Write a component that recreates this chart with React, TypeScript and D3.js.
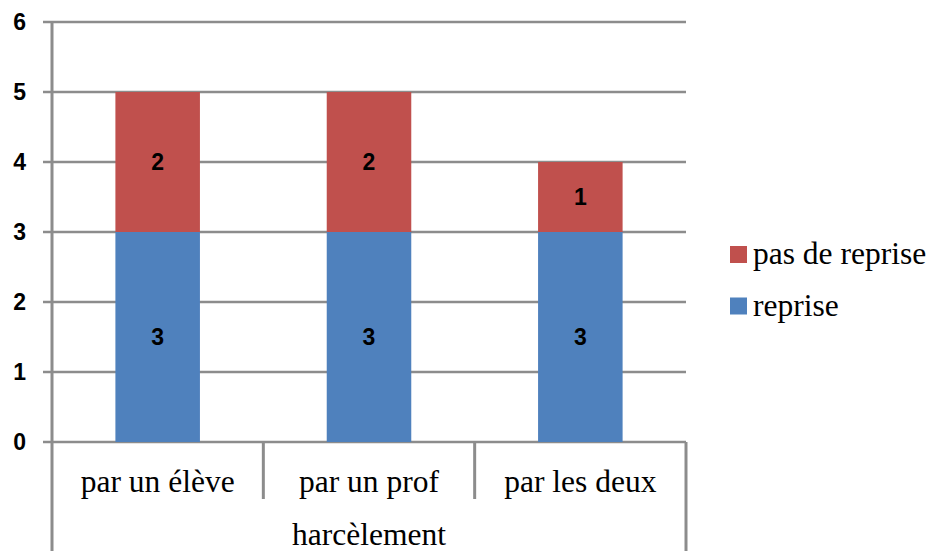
import React from "react";
import * as d3 from "d3";

const categories = ["par un élève", "par un prof", "par les deux"];
const groupLabel = "harcèlement";
const reprise = [3, 3, 3];
const pasDeReprise = [2, 2, 1];
const yTicks = [0, 1, 2, 3, 4, 5, 6];
const seriesNames = ["reprise", "pas de reprise"];
const colors = ["#4F81BD", "#C0504D"];

export default function App() {
  const W = 931, H = 551;
  const left = 52, right = 686, top = 22, bottom = 442;
  const x = d3.scaleBand<string>().domain(categories).range([left, right]).paddingInner(0.6).paddingOuter(0.3);
  const xOuter = d3.scaleBand<string>().domain(categories).range([left, right]);
  const y = d3.scaleLinear().domain([0, 6]).range([bottom, top]);
  const data = categories.map((c, i) => ({ c, reprise: reprise[i], pas: pasDeReprise[i] }));
  const stack = d3.stack<any>().keys(["reprise", "pas"])(data);
  const grid = "#8c8c8c";
  const sans = "'Liberation Sans', Arial, sans-serif";
  const serif = "'Liberation Serif', 'Times New Roman', serif";
  return (
    <svg width={W} height={H} style={{ position: "absolute", left: 0, top: 0, background: "#fff" }}>
      {yTicks.map((t) => (
        <line key={t} x1={43} x2={right} y1={y(t)} y2={y(t)} stroke={grid} strokeWidth={2.5} />
      ))}
      {yTicks.map((t) => (
        <text key={"l" + t} x={26} y={y(t)} dy="0.36em" textAnchor="end" fontFamily={sans} fontWeight={700} fontSize={23} fill="#000">{t}</text>
      ))}
      {stack.map((s, si) =>
        s.map((d, i) => (
          <g key={si + "-" + i}>
            <rect x={x(categories[i])} width={x.bandwidth()} y={y(d[1])} height={y(d[0]) - y(d[1])} fill={colors[si]} />
            <text x={(x(categories[i]) as number) + x.bandwidth() / 2} y={(y(d[0]) + y(d[1])) / 2} dy="0.36em" textAnchor="middle" fontFamily={sans} fontWeight={700} fontSize={23} fill="#000">{d[1] - d[0]}</text>
          </g>
        ))
      )}
      <line x1={left} x2={left} y1={top} y2={H} stroke={grid} strokeWidth={3} />
      <line x1={right} x2={right} y1={bottom} y2={H} stroke={grid} strokeWidth={3} />
      {categories.slice(1).map((c) => (
        <line key={"sep" + c} x1={xOuter(c)} x2={xOuter(c)} y1={bottom} y2={499} stroke={grid} strokeWidth={3} />
      ))}
      {categories.map((c) => (
        <text key={"c" + c} x={(xOuter(c) as number) + xOuter.bandwidth() / 2} y={492} textAnchor="middle" fontFamily={serif} fontSize={31.5}>{c}</text>
      ))}
      <text x={(left + right) / 2} y={545} textAnchor="middle" fontFamily={serif} fontSize={31.5}>{groupLabel}</text>
      {[1, 0].map((si, k) => (
        <g key={"lg" + si}>
          <rect x={730} y={246 + k * 51.5} width={17} height={17} fill={colors[si]} />
          <text x={753} y={264 + k * 51.5} fontFamily={serif} fontSize={31.5}>{seriesNames[si]}</text>
        </g>
      ))}
    </svg>
  );
}
